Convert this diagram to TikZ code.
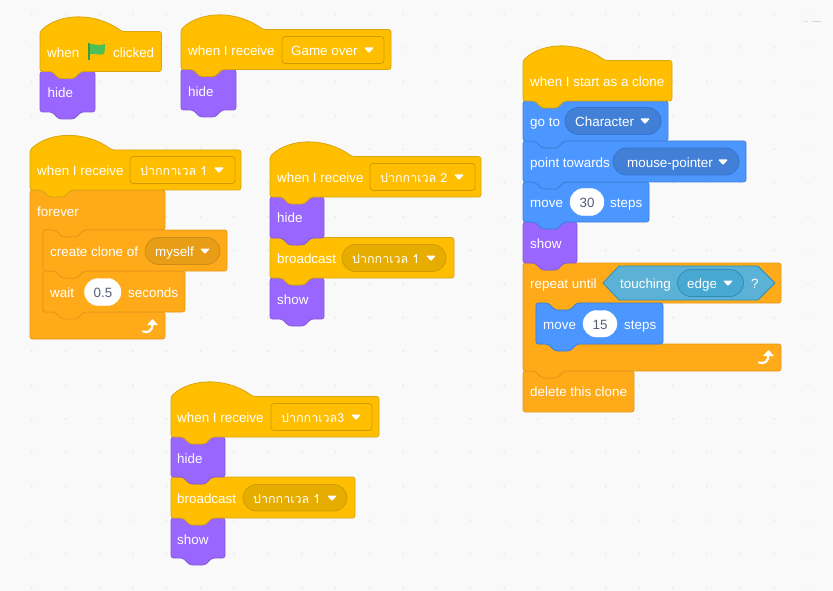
\documentclass[tikz,border=0pt]{standalone}
\usepackage{fontspec}
\setmainfont{Liberation Sans}
\newfontfamily\thaibase[Script=Thai]{Loma}
\newcommand\thaifont{\thaibase\fontsize{12.5}{16}\selectfont}
\definecolor{bgc}{HTML}{F9F9F9}
\definecolor{dotc}{HTML}{E4E4E4}
\definecolor{marka}{HTML}{E4E0EE}\definecolor{markb}{HTML}{D8D2EA}
\definecolor{flagf}{HTML}{4CBF56}\definecolor{flagp}{HTML}{45993D}
\definecolor{evf}{HTML}{FFBF00}\definecolor{evs}{HTML}{D9A60F}
\definecolor{evd}{HTML}{E6AC00}\definecolor{evds}{HTML}{CF9B00}
\definecolor{lof}{HTML}{9966FF}\definecolor{los}{HTML}{855CD6}
\definecolor{mof}{HTML}{4C97FF}\definecolor{mos}{HTML}{3D7FDB}
\definecolor{mod}{HTML}{4280D7}\definecolor{mods}{HTML}{3373CC}
\definecolor{cof}{HTML}{FFAB19}\definecolor{cos}{HTML}{E3961A}
\definecolor{cod}{HTML}{E89D16}\definecolor{cods}{HTML}{CF8B17}
\definecolor{sef}{HTML}{5CB1D6}\definecolor{ses}{HTML}{3C9BC5}
\definecolor{sed}{HTML}{47A8D1}\definecolor{seds}{HTML}{2E8EB8}
\definecolor{valc}{HTML}{575E75}
\tikzset{
  ev/.style={fill=evf,draw=evs},
  lo/.style={fill=lof,draw=los},
  mo/.style={fill=mof,draw=mos},
  co/.style={fill=cof,draw=cos},
  blockshape/.style={line width=0.8pt,rounded corners=2.5pt,line join=round},
  txt/.style={text=white,anchor=base west,inner sep=0pt,font=\fontsize{13.4}{16}\selectfont},
  valtxt/.style={text=valc,anchor=base,inner sep=0pt,font=\fontsize{13.4}{16}\selectfont},
}
% plain stack block: style, x1, y1, x2, y2
\newcommand\stackblk[5]{\draw[blockshape,#1] (#2,#3) -- (#2+12,#3) -- (#2+19,#3+7) -- (#2+34,#3+7) -- (#2+41,#3) -- (#4,#3) -- (#4,#5) -- (#2+41,#5) -- (#2+34,#5+7) -- (#2+19,#5+7) -- (#2+12,#5) -- (#2,#5) -- cycle;}
% hat block: x1, top y of shoulder, x2, y2
\newcommand\hatblk[4]{\draw[blockshape,ev] (#1,#2) .. controls (#1+20,#2-19) and (#1+56,#2-19) .. (#1+82,#2) -- (#3,#2) -- (#3,#4) -- (#1+41,#4) -- (#1+34,#4+7) -- (#1+19,#4+7) -- (#1+12,#4) -- (#1,#4) -- cycle;}
% C block: x1,y1,x2 of arm,y2 arm bottom,y3 foot top,y4 foot bottom
\newcommand\cblk[6]{\draw[blockshape,co] (#1,#2) -- (#1+12,#2) -- (#1+19,#2+7) -- (#1+34,#2+7) -- (#1+41,#2) -- (#3,#2) -- (#3,#4) -- (#1+54,#4) -- (#1+47,#4+7) -- (#1+32,#4+7) -- (#1+25,#4) -- (#1+13,#4) -- (#1+13,#5) -- (#3,#5) -- (#3,#6) -- (#1+41,#6) -- (#1+34,#6+7) -- (#1+19,#6+7) -- (#1+12,#6) -- (#1,#6) -- cycle;}
% C block with a flat bottom
\newcommand\capblk[6]{\draw[blockshape,co] (#1,#2) -- (#1+12,#2) -- (#1+19,#2+7) -- (#1+34,#2+7) -- (#1+41,#2) -- (#3,#2) -- (#3,#4) -- (#1+54,#4) -- (#1+47,#4+7) -- (#1+32,#4+7) -- (#1+25,#4) -- (#1+13,#4) -- (#1+13,#5) -- (#3,#5) -- (#3,#6) -- (#1,#6) -- cycle;}
\newcommand\ddbox[4]{\draw[draw=evds,fill=evf,line width=0.8pt,rounded corners=3pt] (#1,#2) rectangle (#3,#4);}
\newcommand\ovl[6]{\draw[draw=#6,fill=#5,line width=0.8pt,rounded corners=13.5pt] (#1,#2) rectangle (#3,#4);}
\newcommand\tri[2]{\fill[white,rounded corners=1pt] (#1-5,#2-2.5) -- (#1+5,#2-2.5) -- (#1,#2+3) -- cycle;}
\newcommand\retarrow[2]{\draw[white,line width=2.2pt,line cap=round] (#1-7,#2+4.5) .. controls (#1-1,#2+6.5) and (#1+2.5,#2+3) .. (#1+2.5,#2-3);\fill[white,rounded corners=0.5pt] (#1-3,#2-2) -- (#1+2.5,#2-8) -- (#1+8,#2-2) -- cycle;}
\newcommand\lbl[4]{\node[txt] (#1) at (#2,#3+5.3) {#4};}
\newcommand\vlbl[4]{\node[valtxt] (#1) at (#2,#3+5.3) {#4};}
\begin{document}
\begin{tikzpicture}[x=1pt,y=-1pt]
\useasboundingbox (0,0) rectangle (833,591);
\fill[bgc] (0,0) rectangle (833,591);
\foreach \i in {0,...,24}\foreach \j in {0,...,17}{
  \fill[dotc] (-2+33.75*\i,14+33.75*\j) circle (0.9pt);}
\draw[marka,line width=1.2pt] (803,21.5) -- (808,21.5);
\draw[markb,line width=1.2pt] (812,21.5) -- (821,21.5);

% group 1
\stackblk{lo}{40}{71.5}{95}{112}
\hatblk{40}{31.5}{161.5}{71.5}
\lbl{g1when}{47}{52}{when}
\fill[flagf] (89,44.5) .. controls (93,42.5) and (96,47) .. (105,44) .. controls (105,48) and (105,50) .. (104,54) .. controls (98,56.5) and (93,51.5) .. (89,55) -- cycle;
\draw[flagp,line width=1.2pt] (89,43) -- (89,60);
\lbl{g1click}{113}{52}{clicked}
\lbl{g1hide}{47.5}{92}{hide}

% group 2
\stackblk{lo}{181}{69.5}{236}{110}
\hatblk{181}{29.5}{391}{69.5}
\lbl{g2when}{188}{50}{when I receive}
\ddbox{282}{36.5}{384}{63.5}
\lbl{g2dd}{291}{50}{Game over}
\tri{369}{50}
\lbl{g2hide}{188}{91}{hide}

% group 3
\capblk{30}{190}{165}{230}{312}{339}
\stackblk{co}{43}{271}{185}{312}
\stackblk{co}{43}{230}{227}{271}
\hatblk{30}{150}{241}{190}
\lbl{g3when}{37}{170}{when I receive}
\ddbox{130}{156.5}{235}{183.5}
\lbl{g3dd}{140}{170}{\thaifont ปากกาเวล 1}
\tri{219}{170}
\lbl{g3for}{37}{211}{forever}
\lbl{g3clone}{50}{251}{create clone of}
\ovl{145}{237.5}{220}{264.5}{cod}{cods}
\lbl{g3my}{155}{251}{myself}
\tri{205}{251}
\lbl{g3wait}{50}{292}{wait}
\draw[white,fill=white,rounded corners=13.5pt] (84.5,278.5) rectangle (121,305.5);
\vlbl{g3val}{103}{292}{0.5}
\lbl{g3sec}{128}{292}{seconds}
\retarrow{150}{327}

% group 4
\stackblk{lo}{270}{278}{324}{319}
\stackblk{ev}{270}{237.5}{454}{278}
\stackblk{lo}{270}{197}{324}{238}
\hatblk{270}{156.5}{481}{197}
\lbl{g4when}{277}{177}{when I receive}
\ddbox{370}{163.5}{475}{190.5}
\lbl{g4dd}{380}{177}{\thaifont ปากกาเวล 2}
\tri{459}{177}
\lbl{g4hide}{277}{217}{hide}
\lbl{g4bc}{277}{258}{broadcast}
\ovl{342}{244.5}{446}{271.5}{evd}{evds}
\lbl{g4bv}{352}{258}{\thaifont ปากกาเวล 1}
\tri{431}{258}
\lbl{g4show}{277}{299}{show}

% group 5
\stackblk{lo}{171}{518}{225}{558}
\stackblk{ev}{171}{477}{355}{518}
\stackblk{lo}{171}{437}{225}{477}
\hatblk{171}{396.5}{379}{437}
\lbl{g5when}{177}{417}{when I receive}
\ddbox{271}{403.5}{372}{430.5}
\lbl{g5dd}{281}{417}{\thaifont ปากกาเวล3}
\tri{356}{417}
\lbl{g5hide}{177}{458}{hide}
\lbl{g5bc}{177}{498}{broadcast}
\ovl{243}{484.5}{347}{511}{evd}{evds}
\lbl{g5bv}{253}{498}{\thaifont ปากกาเวล 1}
\tri{332}{498}
\lbl{g5show}{177}{539}{show}

% group 6
\draw[blockshape,co] (523,371) -- (535,371) -- (542,378) -- (557,378) -- (564,371) -- (634,371) -- (634,412) -- (523,412) -- cycle;
\cblk{523}{263}{781}{303}{344}{371}
\stackblk{mo}{536}{303}{663}{344}
\stackblk{lo}{523}{222}{577}{263}
\stackblk{mo}{523}{182}{649}{222}
\stackblk{mo}{523}{141}{746}{182}
\stackblk{mo}{523}{101}{668}{141}
\hatblk{523}{60.5}{672}{101}
\lbl{g6when}{530}{81}{when I start as a clone}
\lbl{g6go}{530}{121}{go to}
\ovl{565}{107.5}{661}{134.5}{mod}{mods}
\lbl{g6ch}{575}{121}{Character}
\tri{645}{121}
\lbl{g6pt}{530}{162}{point towards}
\ovl{613}{148}{739}{175}{mod}{mods}
\lbl{g6mp}{627}{162}{mouse-pointer}
\tri{723}{162}
\lbl{g6mv}{530}{202}{move}
\draw[white,fill=white,rounded corners=13.5pt] (570,188.5) rectangle (604,215.5);
\vlbl{g6v30}{587}{202}{30}
\lbl{g6st}{610}{202}{steps}
\lbl{g6show}{530}{243}{show}
\lbl{g6rep}{530}{283}{repeat until}
\draw[draw=seds,fill=sef,line width=0.8pt,line join=round] (603,283) -- (619,266) -- (758,266) -- (775,283) -- (758,300) -- (619,300) -- cycle;
\lbl{g6tch}{620}{283}{touching}
\ovl{677.5}{269.5}{743.5}{296.5}{sed}{seds}
\lbl{g6edge}{687}{283}{edge}
\tri{728}{283}
\lbl{g6q}{751}{283}{?}
\lbl{g6mv2}{543}{324}{move}
\draw[white,fill=white,rounded corners=13.5pt] (583,310.5) rectangle (617,337);
\vlbl{g6v15}{600}{324}{15}
\lbl{g6st2}{624}{324}{steps}
\retarrow{766}{358}
\lbl{g6del}{530}{391}{delete this clone}
\end{tikzpicture}
\end{document}
